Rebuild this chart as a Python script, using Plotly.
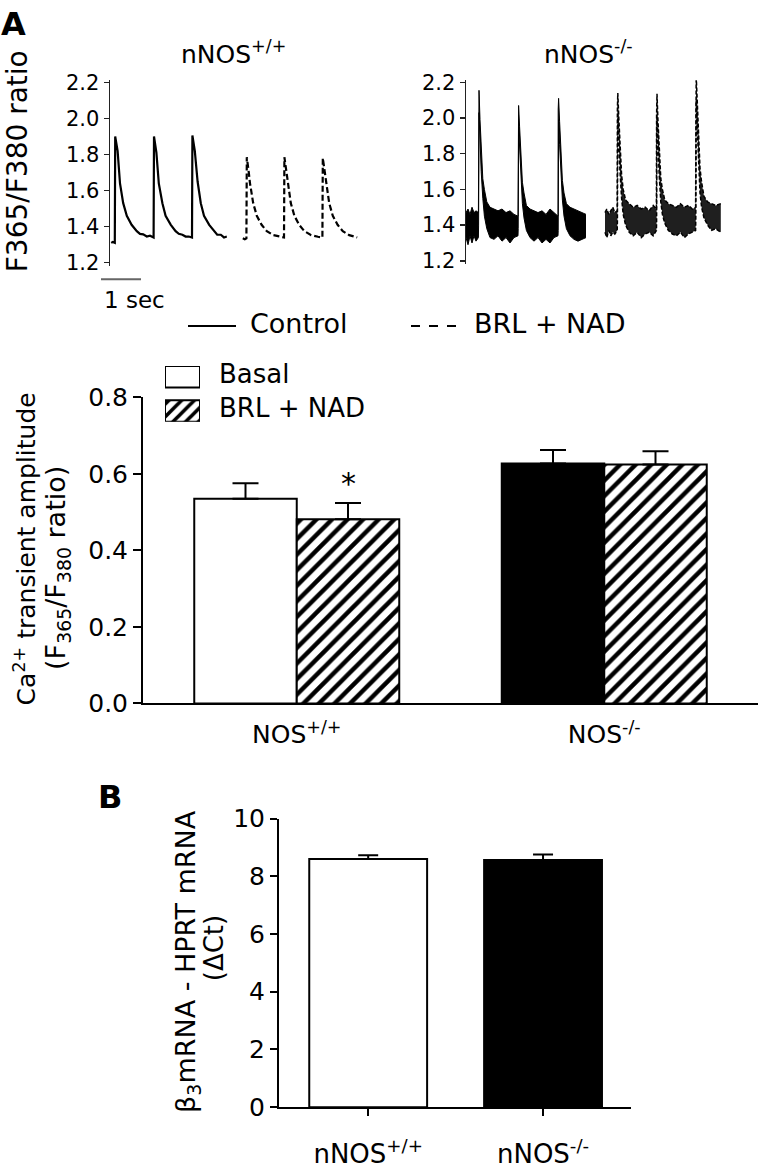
import plotly.graph_objects as go

FONT = "DejaVu Sans"
W, H = 760, 1169

# ---------------- data ----------------
# Panel A, representative Ca2+ transients (time in s, F365/F380 ratio)
wt_ctrl_t = [0.03, 0.07, 0.12, 0.13, 0.19, 0.25, 0.33, 0.42, 0.54, 0.67, 0.75, 0.83, 0.92, 1.00, 1.09,
             1.10, 1.16, 1.22, 1.31, 1.39, 1.52, 1.64, 1.72, 1.81, 1.89, 1.97, 2.05,
             2.06, 2.12, 2.19, 2.27, 2.35, 2.48, 2.60, 2.68, 2.77, 2.85, 2.92]
wt_ctrl_v = [1.31, 1.315, 1.31, 1.90, 1.82, 1.64, 1.53, 1.46, 1.41, 1.375, 1.36, 1.357, 1.345, 1.35, 1.34,
             1.90, 1.81, 1.64, 1.53, 1.46, 1.41, 1.375, 1.36, 1.355, 1.345, 1.345, 1.34,
             1.905, 1.82, 1.65, 1.53, 1.46, 1.41, 1.375, 1.355, 1.355, 1.34, 1.345]

wt_brl_t = [3.32, 3.37, 3.41, 3.42, 3.47, 3.50, 3.58, 3.67, 3.79, 3.92, 4.08, 4.25, 4.35,
            4.36, 4.41, 4.44, 4.52, 4.61, 4.73, 4.86, 5.03, 5.20, 5.31,
            5.32, 5.37, 5.40, 5.48, 5.57, 5.69, 5.82, 5.98, 6.18]
wt_brl_v = [1.335, 1.33, 1.335, 1.785, 1.70, 1.64, 1.53, 1.46, 1.41, 1.375, 1.353, 1.344, 1.34,
            1.785, 1.70, 1.64, 1.53, 1.46, 1.41, 1.375, 1.353, 1.344, 1.34,
            1.78, 1.70, 1.64, 1.53, 1.46, 1.41, 1.375, 1.353, 1.34]

# nNOS-/- traces are noisy: upper / lower envelope of the recording
ko_ctrl_t = [0.00, 0.05, 0.10, 0.15, 0.20, 0.25, 0.31,
             0.315, 0.325, 0.35, 0.38, 0.42, 0.46, 0.52, 0.60, 0.70, 0.80, 0.90, 1.00, 1.10, 1.20, 1.30,
             1.305, 1.315, 1.34, 1.37, 1.41, 1.45, 1.51, 1.60, 1.70, 1.80, 1.90, 2.00, 2.10, 2.20, 2.30,
             2.305, 2.315, 2.34, 2.37, 2.41, 2.45, 2.51, 2.60, 2.70, 2.80, 2.90, 3.00]
ko_ctrl_hi = [1.47, 1.49, 1.46, 1.50, 1.47, 1.48, 1.47,
              2.10, 2.155, 1.99, 1.82, 1.66, 1.60, 1.53, 1.50, 1.49, 1.48, 1.49, 1.47, 1.48, 1.46, 1.45,
              2.00, 2.07, 1.95, 1.80, 1.64, 1.58, 1.51, 1.49, 1.48, 1.47, 1.48, 1.46, 1.49, 1.47, 1.45,
              2.05, 2.11, 1.98, 1.82, 1.65, 1.58, 1.52, 1.50, 1.49, 1.48, 1.47, 1.46]
ko_ctrl_lo = [1.33, 1.29, 1.34, 1.30, 1.34, 1.31, 1.33,
              1.40, 2.03, 1.86, 1.70, 1.55, 1.45, 1.38, 1.33, 1.32, 1.34, 1.31, 1.33, 1.30, 1.33, 1.34,
              1.38, 1.95, 1.82, 1.68, 1.52, 1.44, 1.37, 1.33, 1.31, 1.33, 1.30, 1.32, 1.30, 1.33, 1.34,
              1.37, 1.99, 1.85, 1.70, 1.54, 1.45, 1.38, 1.34, 1.32, 1.31, 1.32, 1.33]

ko_brl_t = [3.475, 3.52, 3.57, 3.62, 3.67, 3.72, 3.78,
            3.785, 3.795, 3.82, 3.85, 3.89, 3.93, 3.99, 4.08, 4.18, 4.28, 4.38, 4.48, 4.58, 4.68, 4.76,
            4.765, 4.775, 4.80, 4.83, 4.87, 4.91, 4.97, 5.06, 5.16, 5.26, 5.36, 5.46, 5.56, 5.66, 5.74,
            5.745, 5.755, 5.78, 5.81, 5.85, 5.89, 5.95, 6.04, 6.14, 6.24, 6.37]
ko_brl_hi = [1.47, 1.49, 1.46, 1.48, 1.50, 1.47, 1.48,
             2.05, 2.14, 2.00, 1.84, 1.68, 1.60, 1.54, 1.52, 1.50, 1.51, 1.49, 1.50, 1.48, 1.51, 1.49,
             2.02, 2.135, 1.98, 1.83, 1.66, 1.60, 1.54, 1.52, 1.51, 1.50, 1.52, 1.50, 1.51, 1.49, 1.50,
             2.10, 2.235, 2.10, 1.90, 1.72, 1.64, 1.56, 1.53, 1.52, 1.51, 1.52]
ko_brl_lo = [1.36, 1.33, 1.37, 1.34, 1.36, 1.35, 1.37,
             1.42, 2.02, 1.86, 1.70, 1.55, 1.46, 1.40, 1.36, 1.34, 1.36, 1.33, 1.35, 1.36, 1.34, 1.37,
             1.42, 2.00, 1.84, 1.68, 1.53, 1.46, 1.41, 1.37, 1.35, 1.34, 1.36, 1.33, 1.35, 1.36, 1.37,
             1.44, 2.10, 1.95, 1.76, 1.58, 1.50, 1.44, 1.40, 1.37, 1.38, 1.36]

trace_ticks = [1.2, 1.4, 1.6, 1.8, 2.0, 2.2]
scale_bar_sec = 1.0

# Panel A, bar chart
groups = ["NOS<sup>+/+</sup>", "NOS<sup>-/-</sup>"]
basal_amp = [0.535, 0.627]
basal_err = [0.040, 0.035]
brl_amp = [0.481, 0.624]
brl_err = [0.043, 0.035]
amp_ticks = [0.0, 0.2, 0.4, 0.6, 0.8]

# Panel B
b_groups = ["nNOS<sup>+/+</sup>", "nNOS<sup>-/-</sup>"]
b_dct = [8.60, 8.56]
b_err = [0.13, 0.19]
b_ticks = [0, 2, 4, 6, 8, 10]


# ---------------- helpers ----------------
def px(x):
    return x / W


def py(y):
    return 1 - y / H


fig = go.Figure()

# ---- traces, nNOS+/+ ----
fig.add_trace(go.Scatter(x=wt_ctrl_t, y=wt_ctrl_v, mode="lines",
                         line=dict(color="black", width=2.2), xaxis="x", yaxis="y",
                         showlegend=False, hoverinfo="skip"))
fig.add_trace(go.Scatter(x=wt_brl_t, y=wt_brl_v, mode="lines",
                         line=dict(color="black", width=2.2, dash="6px,3px"), xaxis="x", yaxis="y",
                         showlegend=False, hoverinfo="skip"))

# ---- traces, nNOS-/- (noise band) ----
fig.add_trace(go.Scatter(x=ko_ctrl_t, y=ko_ctrl_lo, mode="lines",
                         line=dict(color="black", width=1), xaxis="x2", yaxis="y2",
                         showlegend=False, hoverinfo="skip"))
fig.add_trace(go.Scatter(x=ko_ctrl_t, y=ko_ctrl_hi, mode="lines", fill="tonexty",
                         fillcolor="black",
                         line=dict(color="black", width=1), xaxis="x2", yaxis="y2",
                         showlegend=False, hoverinfo="skip"))
fig.add_trace(go.Scatter(x=ko_brl_t, y=ko_brl_lo, mode="lines",
                         line=dict(color="black", width=1.5, dash="4px,2px"), xaxis="x2", yaxis="y2",
                         showlegend=False, hoverinfo="skip"))
fig.add_trace(go.Scatter(x=ko_brl_t, y=ko_brl_hi, mode="lines", fill="tonexty",
                         fillcolor="rgba(0,0,0,0.88)",
                         line=dict(color="black", width=1.5, dash="4px,2px"), xaxis="x2", yaxis="y2",
                         showlegend=False, hoverinfo="skip"))

# ---- bar chart A ----
hatch = dict(shape="/", fgcolor="black", fgopacity=1, bgcolor="white", size=11, solidity=0.4,
             fillmode="replace")
fig.add_trace(go.Bar(x=[1, 2], y=basal_amp, name="Basal", xaxis="x3", yaxis="y3",
                     marker=dict(color=["white", "black"], line=dict(color="black", width=2)),
                     error_y=dict(type="data", array=basal_err, arrayminus=[0, 0], symmetric=False,
                                  color="black", thickness=2, width=13),
                     showlegend=False, hoverinfo="skip"))
fig.add_trace(go.Bar(x=[1, 2], y=brl_amp, name="BRL + NAD", xaxis="x3", yaxis="y3",
                     marker=dict(color="black", line=dict(color="black", width=2), pattern=hatch),
                     error_y=dict(type="data", array=brl_err, arrayminus=[0, 0], symmetric=False,
                                  color="black", thickness=2, width=13),
                     showlegend=False, hoverinfo="skip"))

# legend swatches for the bar chart (own tiny axis)
fig.add_trace(go.Bar(x=[1, 1], y=[1, 0], orientation="h", width=0.63, xaxis="x5", yaxis="y5",
                     marker=dict(color=["white", "black"], line=dict(color="black", width=2),
                                 pattern=dict(shape=["", "/"], fgcolor="black", fgopacity=1,
                                              bgcolor="white", size=9, solidity=0.4,
                                              fillmode="replace")),
                     showlegend=False, hoverinfo="skip"))

# ---- panel B ----
fig.add_trace(go.Bar(x=[1, 2], y=b_dct, width=0.674, xaxis="x4", yaxis="y4",
                     marker=dict(color=["white", "black"], line=dict(color="black", width=2)),
                     error_y=dict(type="data", array=b_err, arrayminus=[0, 0], symmetric=False,
                                  color="black", thickness=2, width=10),
                     showlegend=False, hoverinfo="skip"))

axis_font = dict(family=FONT, color="black")
noaxis = dict(showline=False, showticklabels=False, showgrid=False, zeroline=False, ticks="",
              fixedrange=True)

top_x_range = [0, 6.25]
top_x_dom = [px(110), px(360)]

fig.update_layout(
    width=W, height=H, autosize=False,
    margin=dict(l=0, r=0, t=0, b=0, pad=0),
    paper_bgcolor="white", plot_bgcolor="rgba(0,0,0,0)",
    font=dict(family=FONT, color="black"),
    barmode="group", bargap=1 / 3, bargroupgap=0,
    showlegend=False,
    xaxis=dict(domain=top_x_dom, range=top_x_range, anchor="y", **noaxis),
    yaxis=dict(domain=[py(258), py(68)], range=[1.184, 2.211], anchor="x",
               showline=True, linecolor="#222", linewidth=1.5, ticks="outside", ticklen=5,
               tickwidth=1.5, tickcolor="#222", tickvals=trace_ticks, tickformat=".1f",
               tickfont=dict(size=21, **axis_font), showgrid=False, zeroline=False, fixedrange=True),
    xaxis2=dict(domain=[px(466), px(722)], range=[0, 6.4], anchor="y2", **noaxis),
    yaxis2=dict(domain=[py(256), py(68)], range=[1.184, 2.211], anchor="x2",
                showline=True, linecolor="#222", linewidth=1.5, ticks="outside", ticklen=5,
                tickwidth=1.5, tickcolor="#222", tickvals=trace_ticks, tickformat=".1f",
                tickfont=dict(size=21, **axis_font), showgrid=False, zeroline=False, fixedrange=True),
    xaxis3=dict(domain=[px(143), px(758)], range=[0.5, 2.5], anchor="y3",
                showline=True, linecolor="black", linewidth=2, ticks="",
                tickvals=[1, 2], ticktext=groups, ticklabelstandoff=8,
                tickfont=dict(size=25, **axis_font), showgrid=False, zeroline=False, fixedrange=True),
    yaxis3=dict(domain=[py(707), py(393)], range=[0, 0.8], anchor="x3",
                showline=True, linecolor="black", linewidth=2, ticks="outside", ticklen=8,
                tickwidth=2, tickcolor="black", tickvals=amp_ticks, tickformat=".1f",
                tickfont=dict(size=25, **axis_font), showgrid=False, zeroline=False, fixedrange=True),
    xaxis4=dict(domain=[px(279), px(631)], range=[0.49, 2.503], anchor="y4",
                showline=True, linecolor="black", linewidth=2, ticks="outside", ticklen=7,
                tickwidth=2, tickcolor="black", tickvals=[1, 2], ticktext=b_groups,
                ticklabelstandoff=16,
                tickfont=dict(size=26, **axis_font), showgrid=False, zeroline=False, fixedrange=True),
    yaxis4=dict(domain=[py(1121), py(825)], range=[0, 10], anchor="x4",
                showline=True, linecolor="black", linewidth=2, ticks="outside", ticklen=7,
                tickwidth=2, tickcolor="black", tickvals=b_ticks,
                tickfont=dict(size=25, **axis_font), showgrid=False, zeroline=False, fixedrange=True),
    xaxis5=dict(domain=[px(165), px(200)], range=[0, 1], anchor="y5", **noaxis),
    yaxis5=dict(domain=[py(418), py(361)], range=[-0.314, 1.314], anchor="x5", **noaxis),
)

# ---- scale bar (1 s) computed from the top-left axis scale ----
def t_to_paper(t):
    d0, d1 = top_x_dom
    r0, r1 = top_x_range
    return d0 + (t - r0) / (r1 - r0) * (d1 - d0)


sb_start = -0.225
fig.add_shape(type="line", xref="paper", yref="paper",
              x0=t_to_paper(sb_start), x1=t_to_paper(sb_start + scale_bar_sec),
              y0=py(272), y1=py(272), line=dict(color="#666", width=2))

# top legend samples
fig.add_shape(type="line", xref="paper", yref="paper", x0=px(188), x1=px(236),
              y0=py(320), y1=py(320), line=dict(color="black", width=2))
fig.add_shape(type="line", xref="paper", yref="paper", x0=px(411), x1=px(460),
              y0=py(320), y1=py(320), line=dict(color="black", width=2, dash="dash"))

ann = []


def text(x, y, s, size, xanchor="center", yanchor="middle", angle=0, ref=("paper", "paper")):
    ann.append(dict(x=x, y=y, xref=ref[0], yref=ref[1], text=s, showarrow=False,
                    xanchor=xanchor, yanchor=yanchor, textangle=angle,
                    font=dict(family=FONT, size=size, color="black")))


text(px(13), py(10), "<b>A</b>", 32)
text(px(110), py(803), "<b>B</b>", 32)
text(px(233), py(39), "nNOS<sup>+/+</sup>", 25)
text(px(588), py(39), "nNOS<sup>-/-</sup>", 25)
text(px(17), py(151), "F365/F380 ratio", 28, angle=-90)
text(px(134), py(293), "1 sec", 23)
text(px(248), py(317), "Control", 27, xanchor="left")
text(px(472), py(317), "BRL + NAD", 27, xanchor="left")
text(px(217), py(369), "Basal", 26, xanchor="left")
text(px(217), py(404), "BRL + NAD", 26, xanchor="left")
text(px(25), py(549), "Ca<sup>2+</sup> transient amplitude", 25, angle=-90)
text(px(58), py(568), "(F<sub>365</sub>/F<sub>380</sub> ratio)", 27, angle=-90)
text(px(188), py(972), "β<sub>3</sub>mRNA - HPRT mRNA", 27, angle=-90)
text(px(214), py(958), "(ΔCt)", 26, angle=-90)
text(1 + 1 / 6, brl_amp[0] + brl_err[0], "*", 30, yanchor="bottom", ref=("x3", "y3"))

fig.update_layout(annotations=ann)

fig.write_html("out.html", config={"displayModeBar": False, "staticPlot": True},
               post_script="document.body.style.margin='0';document.body.style.overflow='hidden';")
